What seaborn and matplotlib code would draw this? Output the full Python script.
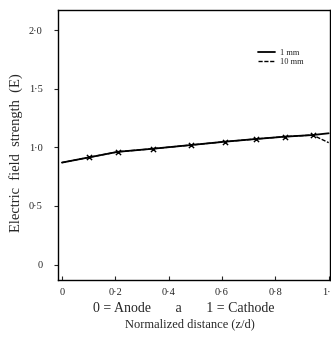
import matplotlib
matplotlib.use("Agg")
import matplotlib.pyplot as plt
import seaborn as sns
import pandas as pd

sns.set_style("ticks")
plt.rcParams['font.family'] = ['Liberation Serif', 'DejaVu Serif']

x_pos = [0.0, 0.10, 0.21, 0.34, 0.485, 0.61, 0.726, 0.835, 0.94, 1.0]
e_1mm = [0.87, 0.914, 0.962, 0.988, 1.02, 1.048, 1.071, 1.091, 1.105, 1.12]
e_10mm = [0.87, 0.914, 0.962, 0.988, 1.02, 1.048, 1.071, 1.091, 1.105, 1.04]
marker_x = [0.10, 0.21, 0.34, 0.485, 0.61, 0.726, 0.835, 0.94]
marker_e = [0.914, 0.962, 0.988, 1.02, 1.048, 1.071, 1.091, 1.105]
series = ["1 mm", "10 mm"]
y_ticks = [0, 0.5, 1.0, 1.5, 2.0]
y_labels = ["0", "0·5", "1·0", "1·5", "2·0"]
x_ticks = [0, 0.2, 0.4, 0.6, 0.8, 1.0]
x_labels = ["0", "0·2", "0·4", "0·6", "0·8", "1·0"]

df1 = pd.DataFrame({"x": x_pos, "E": e_1mm})
df2 = pd.DataFrame({"x": x_pos, "E": e_10mm})
dfm = pd.DataFrame({"x": marker_x, "E": marker_e})

fig = plt.figure(figsize=(3.31, 3.38), dpi=100)
ax = fig.add_axes([0.175, 0.172, 0.822, 0.798])

sns.lineplot(data=df2, x="x", y="E", ax=ax, color="black",
             lw=1.0, label=series[1], linestyle=(0, (3, 1.2)))
sns.lineplot(data=df1, x="x", y="E", ax=ax, color="black",
             lw=1.3, label=series[0])
sns.scatterplot(data=dfm, x="x", y="E", ax=ax, color="black", marker="x",
                s=14, linewidth=1.0, legend=False)

ax.set_xlim(-0.015, 1.005)
ax.set_ylim(-0.13, 2.17)
ax.set_xticks(x_ticks)
ax.set_xticklabels(x_labels)
ax.set_yticks(y_ticks)
ax.set_yticklabels(y_labels)
ax.tick_params(axis="x", direction="in", length=3, labelsize=7.5, pad=6)
ax.tick_params(axis="y", direction="out", length=3, labelsize=7.5, pad=8)
for s in ax.spines.values():
    s.set_linewidth(1.0)
    s.set_color("black")

ax.set_xlabel("")
ax.set_ylabel("Electric  field  strength  (E)", fontsize=10.5)
ax.yaxis.set_label_coords(-0.13, 0.47)
fig.text(184 / 331, 1 - 309 / 338,
         "0 = Anode       a       1 = Cathode",
         ha="center", va="center", fontsize=10)
fig.text(190 / 331, 1 - 324 / 338, "Normalized distance (z/d)",
         ha="center", va="center", fontsize=9)

handles, labels = ax.get_legend_handles_labels()
order = [labels.index(series[0]), labels.index(series[1])]
leg = ax.legend([handles[i] for i in order], [labels[i] for i in order],
                loc="upper right", bbox_to_anchor=(0.93, 0.885), frameon=False,
                fontsize=6, handlelength=2.0, handletextpad=0.6,
                labelspacing=0.2)

fig.savefig("out.png", dpi=100)
